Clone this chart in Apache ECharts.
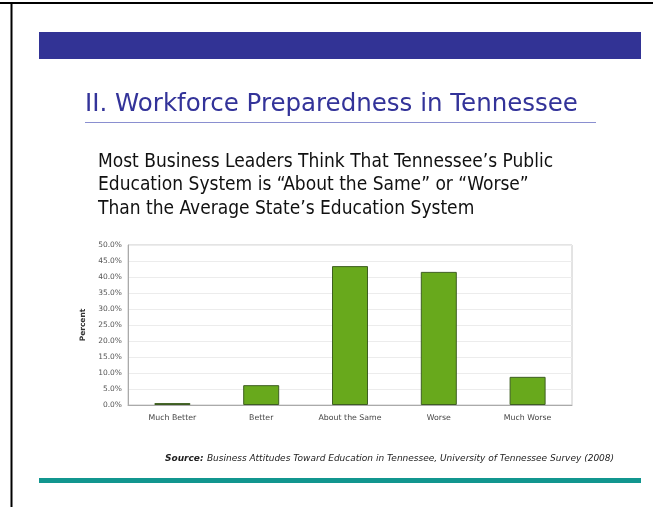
<!DOCTYPE html>
<html><head><meta charset="utf-8">
<script src="https://cdn.jsdelivr.net/npm/echarts@6/dist/echarts.min.js"></script>
<style>html,body{margin:0;padding:0;background:#fff}#c{width:653px;height:507px}</style>
</head><body><div id="c"></div>
<script>
const categories = ['Much Better', 'Better', 'About the Same', 'Worse', 'Much Worse'];
const percents = [0.6, 6.2, 43.4, 41.6, 8.8];
const yTicks = {min: 0, max: 50, interval: 5};
const headline = 'II. Workforce Preparedness in Tennessee';
const subtitleLines = ['Most Business Leaders Think That Tennessee\u2019s Public', 'Education System is \u201cAbout the Same\u201d or \u201cWorse\u201d', 'Than the Average State\u2019s Education System'];
const sourceText = 'Business Attitudes Toward Education in Tennessee, University of Tennessee Survey (2008)';

const chart = echarts.init(document.getElementById('c'), null, {renderer: 'canvas'});
const condFont = '"DejaVu Sans Condensed", "DejaVu Sans", sans-serif';
chart.setOption({
  animation: false,
  backgroundColor: '#fff',
  graphic: [
    {type: 'line', shape: {x1: 0, y1: 3, x2: 653, y2: 3}, style: {stroke: '#000', lineWidth: 2}},
    {type: 'line', shape: {x1: 11.5, y1: 3, x2: 11.5, y2: 507}, style: {stroke: '#000', lineWidth: 2}},
    {type: 'rect', shape: {x: 39, y: 32, width: 602, height: 27}, style: {fill: '#323395'}},
    {type: 'text', left: 85, top: 92, style: {text: headline, font: '24.5px "DejaVu Sans", sans-serif', fill: '#333399'}},
    {type: 'line', shape: {x1: 85, y1: 122.5, x2: 596, y2: 122.5}, style: {stroke: '#8a8fd0', lineWidth: 1}},
    {type: 'text', left: 98, top: 150, style: {text: subtitleLines.join('\n'), font: '19px ' + condFont, fill: '#111', lineHeight: 23.5}},
    {type: 'text', left: 165, top: 453, style: {rich: {b: {fontFamily: 'DejaVu Sans', fontStyle: 'italic', fontWeight: 'bold', fontSize: 9, fill: '#222'}, n: {fontFamily: 'DejaVu Sans', fontStyle: 'italic', fontSize: 9, fill: '#222'}}, text: '{b|Source:} {n|' + sourceText + '}'}},
    {type: 'rect', shape: {x: 39, y: 478, width: 602, height: 5}, style: {fill: '#11968f'}}
  ],
  grid: {left: 128, top: 245, width: 444, height: 160, show: true, borderColor: '#c8c8c8', borderWidth: 1},
  xAxis: {
    type: 'category', data: categories,
    axisLine: {lineStyle: {color: '#aaa'}}, axisTick: {show: false},
    axisLabel: {fontSize: 7.8, color: '#444', fontFamily: 'DejaVu Sans', margin: 9}
  },
  yAxis: {
    type: 'value', min: yTicks.min, max: yTicks.max, interval: yTicks.interval,
    name: 'Percent', nameLocation: 'middle', nameGap: 37, nameRotate: 90,
    nameTextStyle: {fontSize: 7.5, fontWeight: 'bold', color: '#333', fontFamily: 'DejaVu Sans'},
    axisLine: {show: true, lineStyle: {color: '#aaa'}}, axisTick: {show: false},
    axisLabel: {fontSize: 7.5, color: '#555', fontFamily: 'DejaVu Sans', margin: 6, formatter: v => v.toFixed(1) + '%'},
    splitLine: {lineStyle: {color: '#ececec'}}
  },
  series: [{
    type: 'bar', data: percents, barWidth: 36,
    itemStyle: {color: '#68a91c', borderColor: '#3e5e22', borderWidth: 1}
  }]
});
</script></body></html>
